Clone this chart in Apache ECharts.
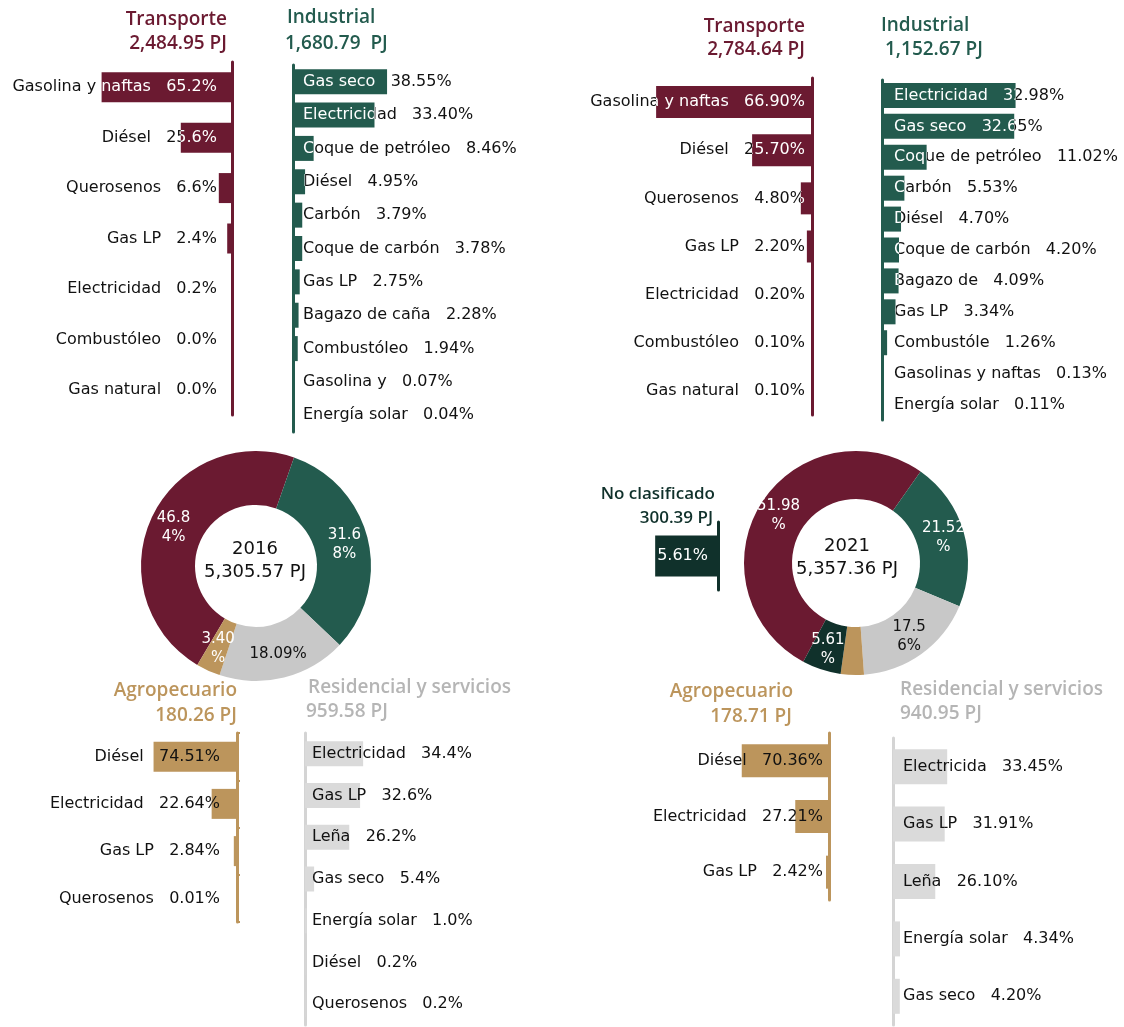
<!DOCTYPE html>
<html>
<head>
<meta charset="utf-8">
<script src="https://cdn.jsdelivr.net/npm/echarts@6/dist/echarts.min.js"></script>
<style>
  html, body { margin: 0; background: #fff; }
  #chart { width: 1124px; height: 1027px; }
</style>
</head>
<body>
<div id="chart"></div>
<script>
// ---- datos 2016 ----
const transporte16Names = ['Gasolina y naftas', 'Diésel', 'Querosenos', 'Gas LP', 'Electricidad', 'Combustóleo', 'Gas natural'];
const transporte16Values = [65.2, 25.6, 6.6, 2.4, 0.2, 0.0, 0.0];
const industrial16Names = ['Gas seco', 'Electricidad', 'Coque de petróleo', 'Diésel', 'Carbón', 'Coque de carbón', 'Gas LP', 'Bagazo de caña', 'Combustóleo', 'Gasolina y', 'Energía solar'];
const industrial16Values = [38.55, 33.4, 8.46, 4.95, 3.79, 3.78, 2.75, 2.28, 1.94, 0.07, 0.04];
const agro16Names = ['Diésel', 'Electricidad', 'Gas LP', 'Querosenos'];
const agro16Values = [74.51, 22.64, 2.84, 0.01];
const resid16Names = ['Electricidad', 'Gas LP', 'Leña', 'Gas seco', 'Energía solar', 'Diésel', 'Querosenos'];
const resid16Values = [34.4, 32.6, 26.2, 5.4, 1.0, 0.2, 0.2];
const sectors16 = ['Transporte', 'Industrial', 'Residencial y servicios', 'Agropecuario'];
const shares16 = [46.84, 31.68, 18.09, 3.40];

// ---- datos 2021 ----
const transporte21Names = ['Gasolina y naftas', 'Diésel', 'Querosenos', 'Gas LP', 'Electricidad', 'Combustóleo', 'Gas natural'];
const transporte21Values = [66.90, 25.70, 4.80, 2.20, 0.20, 0.10, 0.10];
const industrial21Names = ['Electricidad', 'Gas seco', 'Coque de petróleo', 'Carbón', 'Diésel', 'Coque de carbón', 'Bagazo de', 'Gas LP', 'Combustóle', 'Gasolinas y naftas', 'Energía solar'];
const industrial21Values = [32.98, 32.65, 11.02, 5.53, 4.70, 4.20, 4.09, 3.34, 1.26, 0.13, 0.11];
const agro21Names = ['Diésel', 'Electricidad', 'Gas LP'];
const agro21Values = [70.36, 27.21, 2.42];
const resid21Names = ['Electricida', 'Gas LP', 'Leña', 'Energía solar', 'Gas seco'];
const resid21Values = [33.45, 31.91, 26.10, 4.34, 4.20];
const noClasNames = [''];
const noClasValues = [5.61];
const sectors21 = ['Transporte', 'Industrial', 'Residencial y servicios', 'Agropecuario', 'No clasificado'];
const shares21 = [51.98, 21.52, 17.56, 3.34, 5.61];

const GUINDA = '#6b1a31';
const VERDE = '#235b4e';
const DORADO = '#bc955c';
const GRIS = '#dadada';
const GRIS_PIE = '#c8c8c8';
const VERDE_OSC = '#10312b';
const INK = '#111';
const FONT = '16px "DejaVu Sans"';
const TITLE_FONT = '600 19px "Open Sans"';

// paneles de barras: lado del eje, posición y escala
const panels = [
  {names: transporte16Names, values: transporte16Values, dec: 1, side: 'left', axisX: 232, top: 62, bottom: 415, max: 100, px: 2.0, barH: 30, pad: 15, color: GUINDA, line: GUINDA, inColor: '#fff'},
  {names: industrial16Names, values: industrial16Values, dec: 2, side: 'right', axisX: 293, top: 65, bottom: 432, max: 100, px: 2.44, barH: 25, pad: 10, color: VERDE, line: VERDE, inColor: '#fff'},
  {names: transporte21Names, values: transporte21Values, dec: 2, side: 'left', axisX: 812, top: 78, bottom: 415, max: 100, px: 2.33, barH: 32, pad: 7, color: GUINDA, line: GUINDA, inColor: '#fff'},
  {names: industrial21Names, values: industrial21Values, dec: 2, side: 'right', axisX: 882, top: 80, bottom: 420, max: 40, px: 4.05, barH: 25, pad: 12, color: VERDE, line: VERDE, inColor: '#fff'},
  {names: agro16Names, values: agro16Values, dec: 2, side: 'left', axisX: 237, top: 733, bottom: 922, max: 100, px: 1.12, barH: 30, pad: 17, color: DORADO, line: DORADO, inColor: INK, ticks: true},
  {names: resid16Names, values: resid16Values, dec: 1, side: 'right', axisX: 305, top: 733, bottom: 1025, max: 100, px: 1.69, barH: 25, pad: 7, color: GRIS, line: '#d4d4d4', inColor: INK},
  {names: agro21Names, values: agro21Values, dec: 2, side: 'left', axisX: 829, top: 733, bottom: 900, max: 100, px: 1.24, barH: 33, pad: 6, color: DORADO, line: DORADO, inColor: INK},
  {names: resid21Names, values: resid21Values, dec: 2, side: 'right', axisX: 893, top: 738, bottom: 1025, max: 100, px: 1.62, barH: 35, pad: 10, color: GRIS, line: '#d4d4d4', inColor: INK},
  {names: noClasNames, values: noClasValues, dec: 2, side: 'left', axisX: 718, top: 522, bottom: 590, max: 6, px: 11.2, barH: 41, pad: 10, color: VERDE_OSC, line: VERDE_OSC, inColor: '#fff'}
];

// texto negro fuera de la barra, blanco (o negro) recortado dentro de ella
function makeRender(p) {
  return function (params, api) {
    const i = api.value(1);
    const v = api.value(0);
    const s = api.coord([0, i]);
    const e = api.coord([v, i]);
    const band = api.size([0, 1])[1];
    const yc = s[1];
    const x0 = Math.min(s[0], e[0]);
    const x1 = Math.max(s[0], e[0]);
    const bar = {x: x0, y: yc - p.barH / 2, width: x1 - x0, height: p.barH};
    const left = p.side === 'left';
    const label = (p.names[i] ? p.names[i] + '   ' : '') + v.toFixed(p.dec) + '%';
    const outside = left
      ? {x: 0, y: yc - band / 2, width: x0, height: band}
      : {x: x1, y: yc - band / 2, width: 1124 - x1, height: band};
    const ts = {
      text: label,
      x: left ? s[0] - p.pad : s[0] + p.pad,
      y: yc,
      textAlign: left ? 'right' : 'left',
      textVerticalAlign: 'middle',
      align: left ? 'right' : 'left',
      verticalAlign: 'middle',
      font: FONT
    };
    return {
      type: 'group',
      children: [
        {type: 'rect', shape: bar, style: {fill: p.color}, z2: 0},
        {type: 'text', style: Object.assign({fill: INK}, ts), clipPath: {type: 'rect', shape: outside}, z2: 1},
        {type: 'text', style: Object.assign({fill: p.inColor}, ts), clipPath: {type: 'rect', shape: bar}, z2: 2}
      ]
    };
  };
}

const grid = [], xAxis = [], yAxis = [], series = [];
panels.forEach(function (p, k) {
  const w = p.max * p.px;
  grid.push({
    left: p.side === 'left' ? p.axisX - w : p.axisX,
    top: p.top, width: w, height: p.bottom - p.top,
    containLabel: false, outerBoundsMode: 'none'
  });
  xAxis.push({type: 'value', gridIndex: k, min: 0, max: p.max, inverse: p.side === 'left', show: false});
  yAxis.push({
    type: 'category', gridIndex: k, data: p.names, inverse: true,
    position: p.side === 'left' ? 'right' : 'left',
    axisLine: {show: true, lineStyle: {color: p.line, width: 3}},
    axisTick: {show: !!p.ticks, length: 3, lineStyle: {color: p.line, width: 2}},
    axisLabel: {show: false}, splitLine: {show: false}
  });
  series.push({
    type: 'custom', xAxisIndex: k, yAxisIndex: k,
    data: p.values.map(function (v, i) { return [v, i]; }),
    encode: {x: 0, y: 1},
    renderItem: makeRender(p),
    silent: true
  });
});

function pieSeries(names, shares, colors, center, radius, startAngle, labelWidth, greyWidth) {
  return {
    type: 'pie', center: center, radius: radius, startAngle: startAngle, clockwise: true,
    silent: true, emphasis: {disabled: true}, labelLine: {show: false},
    label: {
      position: 'inside', color: '#fff', fontFamily: 'DejaVu Sans', fontSize: 15,
      lineHeight: 19, width: labelWidth, overflow: 'breakAll',
      formatter: function (d) { return d.value.toFixed(2) + '%'; }
    },
    data: names.map(function (n, i) {
      const item = {name: n, value: shares[i], itemStyle: {color: colors[i]}};
      if (colors[i] === GRIS_PIE) item.label = {color: INK, width: greyWidth};
      return item;
    })
  };
}
series.push(pieSeries(sectors16, shares16, [GUINDA, VERDE, GRIS_PIE, DORADO], [256, 566], [61, 115], 239.3, 37, 70));
series.push(pieSeries(sectors21, shares21, [GUINDA, VERDE, GRIS_PIE, DORADO, VERDE_OSC], [856, 563], [64, 112], 241.9, 46, 37));

function txt(text, x, y, align, color, font) {
  return {
    type: 'text', x: x, y: y, silent: true,
    style: {text: text, fill: color, font: font || TITLE_FONT, textAlign: align, align: align, textVerticalAlign: 'middle', verticalAlign: 'middle'}
  };
}

const graphic = [
  txt('Transporte', 227, 20, 'right', GUINDA),
  txt('2,484.95 PJ', 227, 44, 'right', GUINDA),
  txt('Industrial', 287, 18, 'left', VERDE),
  txt('1,680.79  PJ', 285, 44, 'left', VERDE),
  txt('Transporte', 805, 27, 'right', GUINDA),
  txt('2,784.64 PJ', 805, 50, 'right', GUINDA),
  txt('Industrial', 881, 26, 'left', VERDE),
  txt('1,152.67 PJ', 885, 50, 'left', VERDE),
  txt('Agropecuario', 237, 691, 'right', DORADO),
  txt('180.26 PJ', 237, 716, 'right', DORADO),
  txt('Residencial y servicios', 308, 688, 'left', '#b5b5b5'),
  txt('959.58 PJ', 306, 712, 'left', '#b5b5b5'),
  txt('Agropecuario', 793, 692, 'right', DORADO),
  txt('178.71 PJ', 792, 717, 'right', DORADO),
  txt('Residencial y servicios', 900, 690, 'left', '#b5b5b5'),
  txt('940.95 PJ', 900, 714, 'left', '#b5b5b5'),
  txt('No clasificado', 715, 494, 'right', VERDE_OSC, '600 17px "Open Sans"'),
  txt('300.39 PJ', 713, 518, 'right', VERDE_OSC, '600 17px "Open Sans"'),
  txt('2016', 255, 549, 'center', INK, '18px "DejaVu Sans"'),
  txt('5,305.57 PJ', 255, 572, 'center', INK, '18px "DejaVu Sans"'),
  txt('2021', 847, 546, 'center', INK, '18px "DejaVu Sans"'),
  txt('5,357.36 PJ', 847, 569, 'center', INK, '18px "DejaVu Sans"')
];

const chart = echarts.init(document.getElementById('chart'));
chart.setOption({
  backgroundColor: '#fff',
  animation: false,
  grid: grid,
  xAxis: xAxis,
  yAxis: yAxis,
  series: series,
  graphic: graphic
});
</script>
</body>
</html>
